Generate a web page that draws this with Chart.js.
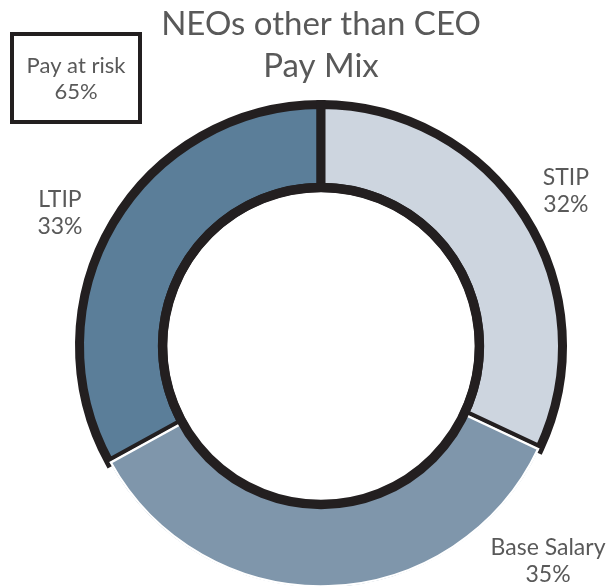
<!DOCTYPE html>
<html>
<head>
<meta charset="utf-8">
<script src="https://cdn.jsdelivr.net/npm/chart.js@4"></script>
<style>
  html, body { margin: 0; padding: 0; background: #fff; overflow: hidden; }
  #wrap { position: relative; width: 607px; height: 600px; }
</style>
</head>
<body>
<div id="wrap"><canvas id="chart-paymix"></canvas></div>
<script>
// pay mix (order starts with LTIP so Base Salary is drawn last)
var categories = ['LTIP', 'STIP', 'Base Salary'];
var values = [33, 32, 35];
var atRisk = [true, true, false];
var riskLabel = 'Pay at risk';
var riskTotal = values.filter(function (v, i) { return atRisk[i]; }).reduce(function (a, b) { return a + b; }, 0);
var titleLines = ['NEOs other than CEO', 'Pay Mix'];

var total = values.reduce(function (a, b) { return a + b; }, 0);
var inkColor = '#231f20';
var textColor = '#595959';
var fontFamily = 'Lato, "Open Sans", sans-serif';

// label placement: angle in degrees clockwise from 12 o'clock (null = middle of slice), distance in px from centre
var labelPlace = {
    'STIP': { angle: null, dist: 290 },
    'LTIP': { angle: 297, dist: 293 },
    'Base Salary': { angle: 133.5, dist: 313 }
};

const innerRing = {
    id: 'innerRing',
    afterDatasetsDraw: function (chart) {
        var arc = chart.getDatasetMeta(0).data[0];
        var ctx = chart.ctx;
        ctx.save();
        ctx.beginPath();
        ctx.arc(arc.x, arc.y, arc.innerRadius, 0, Math.PI * 2);
        ctx.lineWidth = 9.5;
        ctx.strokeStyle = inkColor;
        ctx.stroke();
        ctx.restore();
    }
};

const sliceLabels = {
    id: 'sliceLabels',
    afterDraw: function (chart) {
        var ctx = chart.ctx;
        var arcs = chart.getDatasetMeta(0).data;
        ctx.save();
        ctx.fillStyle = textColor;
        ctx.font = '23px ' + fontFamily;
        ctx.textAlign = 'center';
        ctx.textBaseline = 'middle';
        arcs.forEach(function (arc, i) {
            var place = labelPlace[categories[i]];
            var ang = place.angle === null ? (arc.startAngle + arc.endAngle) / 2 : (place.angle - 90) * Math.PI / 180;
            var x = arc.x + Math.cos(ang) * place.dist;
            var y = arc.y + Math.sin(ang) * place.dist;
            ctx.fillText(categories[i], x, y - 13.5);
            ctx.fillText(values[i] + '%', x, y + 13.5);
        });

        // "pay at risk" box
        ctx.lineWidth = 4;
        ctx.strokeStyle = inkColor;
        ctx.strokeRect(12, 34, 128, 88);
        ctx.font = '22px ' + fontFamily;
        ctx.fillText(riskLabel, 76, 66);
        ctx.fillText(riskTotal + '%', 76, 92);
        ctx.restore();
    }
};

const ctx = document.getElementById('chart-paymix').getContext('2d');
const payChart = new Chart(ctx, {
    type: 'doughnut',
    data: {
        labels: categories,
        datasets: [{
            data: values,
            backgroundColor: ['#5b7e99', '#cdd5df', '#7f96ab'],
            borderColor: atRisk.map(function (r) { return r ? inkColor : '#ffffff'; }),
            borderWidth: atRisk.map(function (r) { return r ? 9 : 2; }),
            borderAlign: atRisk.map(function (r) { return r ? 'center' : 'inner'; }),
            borderJoinStyle: 'miter'
        }]
    },
    options: {
        responsive: true,
        maintainAspectRatio: false,
        animation: false,
        events: [],
        cutout: '65.6%',
        rotation: -values[0] / total * 360,
        layout: {
            padding: { left: 75, right: 40, top: 0, bottom: 8 }
        },
        plugins: {
            legend: { display: false },
            tooltip: { enabled: false },
            title: {
                display: true,
                text: titleLines,
                color: textColor,
                font: { family: fontFamily, size: 33, weight: 'normal', lineHeight: 1.25 },
                padding: { top: 4, bottom: 13.5 }
            }
        }
    },
    plugins: [innerRing, sliceLabels]
});
</script>
</body>
</html>
